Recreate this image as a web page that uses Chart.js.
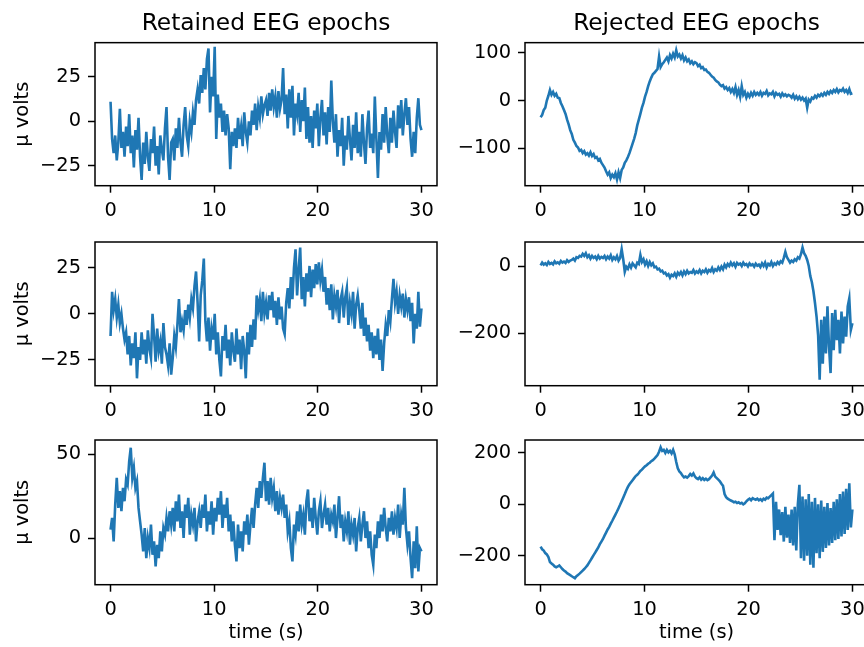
<!DOCTYPE html>
<html>
<head>
<meta charset="utf-8">
<script src="https://cdn.jsdelivr.net/npm/chart.js@4.4.1/dist/chart.umd.min.js"></script>
<style>
  html, body { margin: 0; padding: 0; background: #fff; }
  #fig { position: relative; width: 864px; height: 647px; overflow: hidden; }
  #fig canvas { position: absolute; }
</style>
</head>
<body>
<div id="fig"></div>
<script>
// each epoch is 30 s long, values sampled evenly over it
const duration = 30;
const xTicks = [0, 10, 20, 30];

// retained epochs (µV)
const retained1 = [
  11,-10,-18,-8,-22,-12,7,-15,-6,-20,-3,-14,4,-18,-8,-26,-5,-16,2,-20,
  -33,-12,-24,-6,-20,-28,-10,-18,-3,-25,-14,-30,-8,-16,-22,-4,8,-20,-33,-12,
  -10,-22,-4,-15,2,-12,-20,-2,8,-8,-14,0,-6,5,-2,12,18,10,26,16,
  30,18,35,41,5,25,14,42,-10,15,2,10,-6,6,-8,4,-4,-27,-6,-14,
  -4,-15,2,-10,-3,-14,5,-6,-12,0,-8,6,-2,10,-5,8,2,14,4,9,
  12,3,16,6,18,8,14,2,17,7,12,30,4,15,-4,18,2,20,-8,10,
  4,16,-6,12,0,19,-10,8,-12,3,-15,6,-4,10,-14,2,12,-8,5,-13,
  8,-6,23,0,-12,4,-20,-5,-14,2,-25,-8,-16,3,-10,-22,-2,-15,5,-18,
  -6,-20,4,-12,-24,-4,6,-15,-7,-18,14,-10,-32,-6,-16,4,-12,8,-8,-18,
  2,-12,6,-6,-15,9,-4,12,-8,4,13,-2,8,-10,-20,-6,-18,2,13,-2,-5
];
const retained2 = [
  -12,12,2,8,-2,5,-5,0,-8,-14,-10,-22,-12,-28,-16,-24,-10,-35,-18,-25,
  -10,-22,-14,-27,-9,-19,-24,0,-12,-26,-8,-20,-15,-27,-5,-18,-22,-28,-16,-33,
  -24,-12,-18,-6,8,-10,-4,-9,2,-6,5,-2,8,3,15,23,6,-15,10,18,
  30,-4,-15,-2,-20,-8,-14,0,-22,-10,-25,-34,-12,-20,-6,-24,-14,-28,-10,-20,
  -26,-8,-22,-14,-30,-12,-20,-35,-10,-22,-6,-18,-3,-14,10,2,8,-4,12,0,
  6,-3,10,2,12,-2,7,-6,9,-3,4,-8,-11,6,14,3,20,8,25,35,
  10,24,36,8,20,4,22,12,26,9,24,14,27,16,28,18,24,12,20,5,
  14,2,16,-3,10,4,13,-5,8,12,-2,9,14,-6,6,0,12,-8,5,10,
  2,-8,6,-12,-2,-15,-6,-20,-10,-24,-12,-22,-8,-25,-14,-31,-16,-6,-12,2,
  -4,8,19,6,12,0,10,4,11,-2,8,2,9,-4,6,-16,0,-8,12,-7,3
];
const retained3 = [
  5,12,-2,20,36,18,28,16,30,22,35,32,46,54,36,42,30,34,18,10,
  2,-8,6,-12,0,-6,8,-10,-2,-17,-4,-12,4,-8,6,2,12,4,16,8,
  18,4,22,10,26,6,16,0,20,12,24,2,14,8,18,-2,10,16,6,20,
  12,26,4,16,8,22,2,18,10,24,14,28,6,20,12,24,4,14,-2,10,
  -4,-14,8,-6,4,-8,10,2,14,-4,8,18,6,20,30,18,34,24,36,45,
  22,34,20,36,24,30,16,28,14,24,18,26,12,20,4,10,-6,-14,8,2,
  16,4,20,8,14,2,22,29,10,18,6,24,12,2,16,22,6,14,20,8,
  18,4,14,10,20,0,12,25,6,14,-2,10,4,16,-4,8,2,12,-8,6,
  12,-2,8,16,0,10,-6,4,-10,-16,2,-6,10,0,14,4,18,6,-2,12,
  4,16,2,12,6,20,0,14,8,30,6,-4,4,-12,-24,-2,-18,7,-20,-6,-8
];

// rejected epochs (µV)
const rejected1 = [
  -35,-30,-20,-15,0,10,22,12,18,10,14,6,5,-5,-12,-20,-28,-40,-50,-62,
  -70,-82,-88,-95,-98,-105,-103,-110,-106,-113,-110,-115,-108,-116,-112,-120,-118,-125,-122,-130,
  -135,-140,-148,-155,-150,-162,-155,-160,-152,-165,-150,-162,-145,-140,-130,-125,-118,-110,-100,-90,
  -80,-68,-52,-40,-28,-15,-5,8,18,30,40,48,55,58,62,66,92,70,76,80,
  85,90,82,95,88,98,90,105,92,96,88,95,84,90,82,86,78,82,76,80,
  78,72,75,68,70,64,65,60,58,54,50,48,43,40,38,33,30,32,25,28,
  22,26,18,24,16,28,12,22,8,30,12,18,6,14,8,16,10,18,12,16,
  12,18,10,16,14,20,11,15,13,18,9,16,12,14,8,15,10,13,9,12,
  10,6,12,4,9,3,8,2,6,0,4,-15,2,-2,6,4,10,6,12,9,
  14,10,16,12,18,14,20,16,22,18,24,17,22,20,25,18,22,16,24,14,15
];
const rejected2 = [
  2,10,4,8,3,12,6,9,5,14,8,11,7,15,10,13,9,17,12,16,
  18,22,16,26,24,30,28,36,30,38,26,32,22,30,24,28,20,30,22,27,
  24,30,20,28,22,32,18,26,20,30,16,24,50,20,-17,-2,-8,5,-5,8,
  2,-4,10,6,33,12,20,4,14,0,12,2,8,-4,-2,-10,-8,-16,-14,-22,
  -20,-28,-24,-35,-26,-30,-22,-32,-20,-26,-18,-28,-16,-24,-14,-22,-18,-20,-12,-22,
  -16,-20,-12,-22,-14,-18,-10,-20,-12,-16,-6,-18,-10,-14,-4,-12,-2,-10,4,-4,
  6,0,10,2,8,-2,9,4,7,0,10,3,6,-1,8,2,5,-2,7,1,
  4,-3,8,0,10,-4,6,2,12,0,8,4,12,6,14,10,24,42,26,18,
  10,16,12,20,16,26,22,35,55,38,30,18,0,-30,-48,-75,-110,-150,-205,-338,
  -160,-290,-150,-260,-120,-240,-318,-140,-250,-130,-220,-160,-260,-135,-230,-150,-210,-120,-96,-190,-170
];
const rejected3 = [
  -165,-175,-180,-190,-195,-205,-225,-230,-235,-242,-245,-242,-238,-245,-252,-258,-262,-268,-272,-276,
  -280,-284,-288,-280,-275,-270,-264,-258,-252,-245,-238,-228,-218,-208,-198,-188,-178,-168,-155,-145,
  -135,-122,-110,-98,-88,-75,-64,-52,-40,-28,-15,-2,12,26,40,55,68,78,86,94,
  102,110,115,122,130,135,142,148,152,158,162,168,172,178,185,192,205,222,208,212,
  200,212,202,208,198,212,195,165,140,128,122,112,105,108,104,110,118,112,120,108,
  102,98,105,96,102,95,100,94,98,105,112,124,108,102,96,90,80,72,40,28,
  22,18,15,12,8,10,5,8,3,6,0,4,12,18,22,16,24,20,18,22,
  16,20,14,22,18,26,24,30,36,42,-140,10,-100,-20,-120,-30,-145,-10,-130,-40,
  -150,-20,-160,-10,-180,0,76,-210,30,-220,20,-200,40,-235,10,-247,25,-190,0,-210,
  15,-185,-10,-170,5,-160,-15,-150,10,-140,20,-135,40,-125,50,-115,60,-100,82,-90,-20
];

const yTicksRetained12 = [-25, 0, 25];
const yTicksRetained3 = [0, 50];
const yTicksRejected1 = [-100, 0, 100];
const yTicksRejected2 = [-200, 0];
const yTicksRejected3 = [-200, 0, 200];

const family = 'DejaVu Sans';
Chart.defaults.color = '#000';
Chart.defaults.font.family = family;

// black box round each axes, drawn over the trace like matplotlib spines
const frame = {
  id: 'frame',
  afterDatasetsDraw(chart) {
    const { ctx, chartArea: a } = chart;
    ctx.save();
    ctx.strokeStyle = '#000';
    ctx.lineWidth = 1.5;
    ctx.strokeRect(a.left, a.top, a.right - a.left, a.bottom - a.top);
    ctx.restore();
  }
};

function toPoints(values) {
  const step = duration / (values.length - 1);
  return values.map((v, i) => ({ x: i * step, y: v }));
}

const minus = v => String(v).replace('-', '\u2212');

function panel(p) {
  const canvas = document.createElement('canvas');
  canvas.width = p.w;
  canvas.height = p.h;
  canvas.style.left = p.left + 'px';
  canvas.style.top = p.top + 'px';
  document.getElementById('fig').appendChild(canvas);

  const tickGrid = {
    drawOnChartArea: false,
    drawTicks: true,
    tickLength: 7,
    tickWidth: 1.5,
    tickColor: '#000'
  };

  new Chart(canvas, {
    type: 'line',
    data: {
      datasets: [{
        data: toPoints(p.values),
        borderColor: '#1f77b4',
        borderWidth: 2.6,
        pointRadius: 0,
        tension: 0,
        fill: false
      }]
    },
    options: {
      responsive: false,
      animation: false,
      events: [],
      layout: { padding: { left: 0, right: 8, top: p.padTop, bottom: 0 } },
      plugins: {
        legend: { display: false },
        tooltip: { enabled: false },
        title: {
          display: !!p.title,
          text: p.title || '',
          fullSize: false,
          color: '#000',
          font: { family, size: 23.3, weight: 'normal', lineHeight: 1.2 },
          padding: { top: 9.7, bottom: 5 }
        }
      },
      scales: {
        x: {
          type: 'linear',
          min: -1.5,
          max: 31.5,
          afterBuildTicks: s => { s.ticks = xTicks.map(v => ({ value: v })); },
          afterFit: s => { s.height = p.axisH; },
          grid: tickGrid,
          border: { display: false },
          ticks: { color: '#000', font: { size: 19.4 }, padding: 7, maxRotation: 0, autoSkip: false },
          title: {
            display: !!p.xTitle,
            text: p.xTitle || '',
            color: '#000',
            font: { size: 19.4, lineHeight: 1.2 },
            padding: { top: 0, bottom: 2.4 }
          }
        },
        y: {
          type: 'linear',
          min: p.yMin,
          max: p.yMax,
          afterBuildTicks: s => { s.ticks = p.yTicks.map(v => ({ value: v })); },
          afterFit: s => { s.width = p.axisW; },
          grid: tickGrid,
          border: { display: false },
          ticks: { color: '#000', font: { size: 19.4 }, padding: 7, autoSkip: false, callback: v => minus(v) },
          title: {
            display: !!p.yTitle,
            text: p.yTitle || '',
            color: '#000',
            font: { size: 19.4, lineHeight: 1.2 },
            padding: { top: 11, bottom: 0 }
          }
        }
      }
    },
    plugins: [frame]
  });
}

const leftCol = { left: 0, w: 445, axisW: 95 };
const rightCol = { left: 440, w: 436, axisW: 85 };
const row1 = { top: 0, h: 230, padTop: 0, axisH: 44.3 };
const row2 = { top: 205, h: 225, padTop: 37, axisH: 44.3 };
const row3 = { top: 400, h: 247, padTop: 40, axisH: 62.3 };

panel({ ...leftCol, ...row1, values: retained1, yMin: -36.3, yMax: 44.3, yTicks: yTicksRetained12,
  title: 'Retained EEG epochs', yTitle: 'μ volts' });
panel({ ...rightCol, ...row1, values: rejected1, yMin: -178, yMax: 121, yTicks: yTicksRejected1,
  title: 'Rejected EEG epochs' });
panel({ ...leftCol, ...row2, values: retained2, yMin: -39, yMax: 39, yTicks: yTicksRetained12,
  yTitle: 'μ volts' });
panel({ ...rightCol, ...row2, values: rejected2, yMin: -355.5, yMax: 71.3, yTicks: yTicksRejected2 });
panel({ ...leftCol, ...row3, values: retained3, yMin: -27.9, yMax: 58.6, yTicks: yTicksRetained3,
  yTitle: 'μ volts', xTitle: 'time (s)' });
panel({ ...rightCol, ...row3, values: rejected3, yMin: -313, yMax: 250.5, yTicks: yTicksRejected3,
  xTitle: 'time (s)' });
</script>
</body>
</html>
